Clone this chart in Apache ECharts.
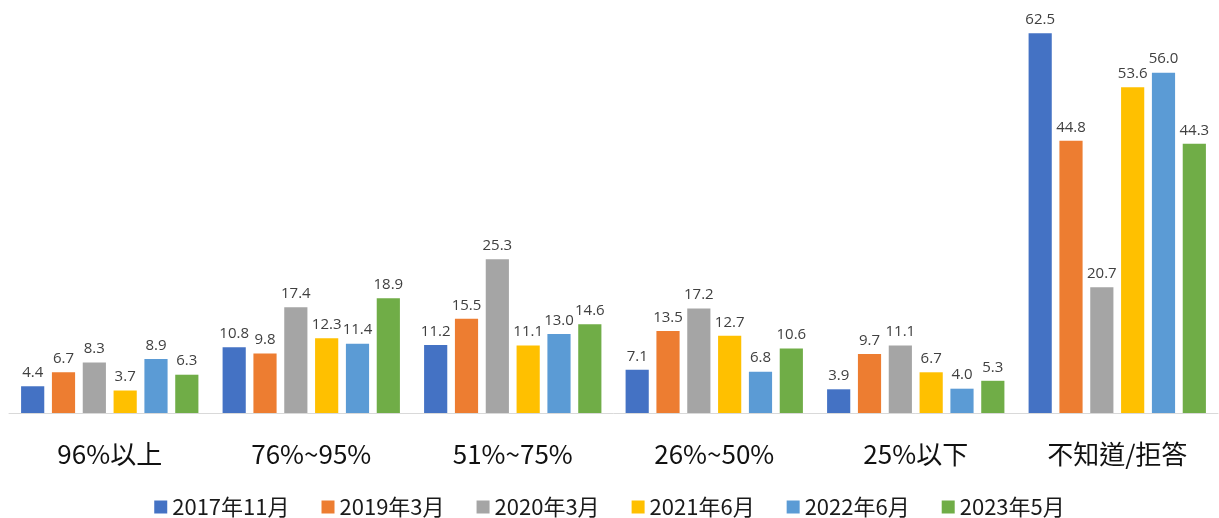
<!DOCTYPE html>
<html><head><meta charset="utf-8">
<script src="https://cdn.jsdelivr.net/npm/echarts@6/dist/echarts.min.js"></script>
<style>html,body{margin:0;padding:0;background:#fff}#c{width:1219px;height:518px}</style>
</head><body><div id="c"></div>
<script>
const categories = ['96%以上', '76%~95%', '51%~75%', '26%~50%', '25%以下', '不知道/拒答'];
const seriesNames = ['2017年11月', '2019年3月', '2020年3月', '2021年6月', '2022年6月', '2023年5月'];
const s2017_11 = [4.4, 10.8, 11.2, 7.1, 3.9, 62.5];
const s2019_03 = [6.7, 9.8, 15.5, 13.5, 9.7, 44.8];
const s2020_03 = [8.3, 17.4, 25.3, 17.2, 11.1, 20.7];
const s2021_06 = [3.7, 12.3, 11.1, 12.7, 6.7, 53.6];
const s2022_06 = [8.9, 11.4, 13.0, 6.8, 4.0, 56.0];
const s2023_05 = [6.3, 18.9, 14.6, 10.6, 5.3, 44.3];
const allValues = [s2017_11, s2019_03, s2020_03, s2021_06, s2022_06, s2023_05];
const colors = ['#4472C4', '#ED7D31', '#A5A5A5', '#FFC000', '#5B9BD5', '#70AD47'];

const numFont = '"Open Sans", "Noto Sans", sans-serif';
const cjkFont = '"Noto Sans CJK TC", "Noto Sans", sans-serif';

const chart = echarts.init(document.getElementById('c'));
chart.setOption({
  animation: false,
  color: colors,
  grid: { left: 9, right: 1, top: 18, bottom: 105 },
  legend: {
    top: 491,
    left: 'center',
    itemWidth: 13, itemHeight: 13,
    itemGap: 32,
    icon: 'rect',
    textStyle: { fontSize: 22, color: '#1a1a1a', fontFamily: cjkFont }
  },
  xAxis: {
    type: 'category',
    data: categories,
    axisLine: { lineStyle: { color: '#d9d9d9', width: 1 } },
    axisTick: { show: false },
    axisLabel: { fontSize: 26, color: '#111', margin: 28, fontFamily: cjkFont }
  },
  yAxis: {
    type: 'value', min: 0, max: 65,
    show: false,
    splitLine: { show: false }
  },
  series: seriesNames.map((n, i) => ({
    name: n,
    type: 'bar',
    data: allValues[i],
    barGap: '33%',
    barCategoryGap: '12%',
    label: {
      show: true, position: 'top', distance: 6,
      formatter: p => p.value.toFixed(1),
      fontSize: 15, color: '#404040', fontFamily: numFont
    }
  }))
});
</script></body></html>
